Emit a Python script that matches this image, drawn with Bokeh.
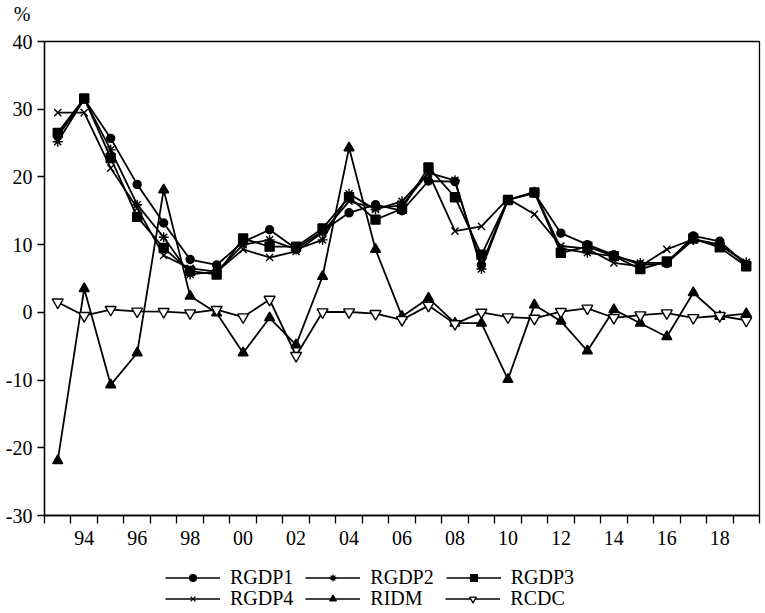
from bokeh.plotting import figure
from bokeh.models import FixedTicker, Legend, LegendItem, Range1d
from bokeh.layouts import column
from bokeh.embed import file_html
from bokeh.resources import INLINE

years = list(range(1993, 2020))

rgdp1 = [26.0, 31.5, 25.7, 18.9, 13.2, 7.8, 7.0, 10.4, 12.2, 9.4, 12.0, 14.7, 15.9, 15.0,
         19.4, 19.3, 7.0, 16.6, 17.6, 11.7, 10.0, 8.5, 7.0, 7.2, 11.3, 10.5, 7.0]
rgdp2 = [25.2, 31.5, 24.0, 15.9, 11.1, 5.6, 6.0, 10.0, 10.7, 9.3, 10.7, 17.5, 15.2, 16.4,
         20.6, 19.5, 6.4, 16.6, 17.8, 9.4, 8.8, 8.3, 7.3, 7.3, 10.7, 10.0, 7.4]
rgdp3 = [26.5, 31.6, 22.8, 14.1, 9.5, 6.1, 5.6, 10.9, 9.7, 9.7, 12.4, 17.0, 13.7, 15.3,
         21.4, 17.0, 8.5, 16.6, 17.7, 8.8, 9.7, 8.3, 6.4, 7.5, 10.9, 9.6, 6.8]
rgdp4 = [29.5, 29.5, 21.3, 15.4, 8.4, 6.5, 6.0, 9.3, 8.1, 9.0, 11.8, 16.4, 15.4, 15.8,
         20.6, 12.0, 12.7, 16.8, 14.5, 9.8, 9.4, 7.3, 6.8, 9.3, 10.8, 10.0, 7.3]
ridm = [-21.9, 3.5, -10.7, -6.0, 18.1, 2.4, -0.1, -6.0, -0.8, -4.8, 5.3, 24.3, 9.3, -0.6,
        2.1, -1.6, -1.6, -9.9, 1.1, -1.3, -5.7, 0.4, -1.6, -3.6, 2.9, -0.6, -0.2]
rcdc = [1.5, -0.5, 0.4, 0.15, 0.1, -0.1, 0.4, -0.7, 1.9, -6.4, 0.05, 0.05, -0.2, -1.1,
        1.0, -1.7, 0.0, -0.7, -0.9, 0.1, 0.6, -0.8, -0.4, -0.1, -0.8, -0.5, -1.2]

series_names = ["RGDP1", "RGDP2", "RGDP3", "RGDP4", "RIDM", "RCDC"]
x_label_years = list(range(1994, 2019, 2))
x_label_texts = ["94", "96", "98", "00", "02", "04", "06", "08", "10", "12", "14", "16", "18"]
y_ticks = [-30, -20, -10, 0, 10, 20, 30, 40]
y_tick_texts = ["-30", "-20", "-10", "0", "10", "20", "30", "40"]
unit_text = "%"

FONT = "Liberation Serif"
W = 765

all_series = [rgdp1, rgdp2, rgdp3, rgdp4, ridm, rcdc]
markers = ["circle", "asterisk", "square", "x", "triangle", "inverted_triangle"]
sizes = [8, 10, 9, 10, 10, 11]
legend_sizes = [7, 9, 7, 8, 8, 9]
fills = ["black", "black", "black", "black", "black", "white"]


def bare_fig(h, yaxis=False):
    f = figure(width=W, height=h, output_backend="svg", toolbar_location=None,
               x_axis_location=None, y_axis_location="left" if yaxis else None,
               title=None, min_border=0, x_range=Range1d(0, 1), y_range=Range1d(0, 1))
    f.grid.visible = False
    f.outline_line_color = None
    f.background_fill_color = "white"
    f.border_fill_color = "white"
    return f

# --- top strip: unit label as a horizontal axis label ---
top = bare_fig(27, yaxis=True)
ta = top.yaxis[0]
ta.ticker = FixedTicker(ticks=[], minor_ticks=[])
ta.axis_line_color = None
ta.major_tick_line_color = None
ta.minor_tick_line_color = None
ta.major_tick_out = 0
ta.minor_tick_out = 0
ta.major_label_standoff = 0
ta.axis_label = unit_text
ta.axis_label_orientation = "horizontal"
ta.axis_label_standoff = 14
ta.axis_label_text_font = FONT
ta.axis_label_text_font_size = "20px"
ta.axis_label_text_font_style = "normal"
ta.axis_label_text_color = "black"

# --- main chart ---
p = figure(width=W, height=533, output_backend="svg", toolbar_location=None,
           x_range=Range1d(1992.5, 2019.5), y_range=Range1d(-30, 40), title=None,
           min_border_left=44, min_border_right=6, min_border_top=14, min_border_bottom=45)
p.grid.visible = False
p.outline_line_color = "black"
p.outline_line_width = 1.3
p.background_fill_color = "white"
p.border_fill_color = "white"

xa = p.xaxis[0]
xa.ticker = FixedTicker(ticks=x_label_years, minor_ticks=[1992.5 + i for i in range(28)])
xa.major_label_overrides = {y: t for y, t in zip(x_label_years, x_label_texts)}
xa.major_tick_out = 0
xa.major_tick_in = 0
xa.minor_tick_out = 8
xa.minor_tick_in = 0
xa.minor_tick_line_color = "black"
xa.minor_tick_line_width = 1.3
xa.axis_line_color = "black"
xa.axis_line_width = 1.3
xa.major_label_standoff = 7
xa.major_label_text_font = FONT
xa.major_label_text_font_size = "20px"
xa.major_label_text_color = "black"

ya = p.yaxis[0]
ya.ticker = FixedTicker(ticks=y_ticks, minor_ticks=[])
ya.major_label_overrides = {v: t for v, t in zip(y_ticks, y_tick_texts)}
ya.major_tick_out = 7
ya.major_tick_in = 0
ya.major_tick_line_color = "black"
ya.major_tick_line_width = 1.3
ya.minor_tick_out = 0
ya.minor_tick_in = 0
ya.axis_line_color = "black"
ya.axis_line_width = 1.3
ya.major_label_standoff = 5
ya.major_label_text_font = FONT
ya.major_label_text_font_size = "20px"
ya.major_label_text_color = "black"

for vals, mk, sz, fc in zip(all_series, markers, sizes, fills):
    p.line(years, vals, line_color="black", line_width=1.8)
    p.scatter(years, vals, marker=mk, size=sz, fill_color=fc,
              line_color="black", line_width=1.4)

# --- legend strip (same series; their data lies outside this strip's ranges) ---
leg = bare_fig(53)
items = []
for name, vals, mk, sz, fc in zip(series_names, all_series, markers, legend_sizes, fills):
    ln = leg.line(years, vals, line_color="black", line_width=1.6)
    sc = leg.scatter(years, vals, marker=mk, size=sz, fill_color=fc,
                     line_color="black", line_width=1.3)
    items.append(LegendItem(label=name, renderers=[ln, sc]))


def make_legend(its, y):
    return Legend(items=its, orientation="horizontal", location=(121, y),
                  label_text_font=FONT, label_text_font_size="20px",
                  label_text_color="black", label_width=63, label_height=21,
                  glyph_width=55, glyph_height=17, label_standoff=10, spacing=12,
                  padding=0, margin=0, border_line_color=None,
                  background_fill_alpha=0)

leg.add_layout(make_legend(items[:3], 24.5), "center")
leg.add_layout(make_legend(items[3:], 3.5), "center")

layout = column(top, p, leg, spacing=0)
open("out.html", "w").write(file_html(layout, INLINE))
